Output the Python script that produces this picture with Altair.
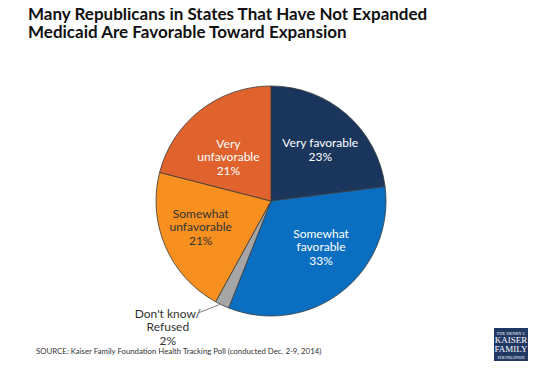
import altair as alt
import pandas as pd

categories = ["Very favorable", "Somewhat favorable", "Don't know/Refused",
              "Somewhat unfavorable", "Very unfavorable"]
values = [23, 33, 2, 21, 21]
labels = ["Very favorable\n23%", "Somewhat\nfavorable\n33%", "Don't know/\nRefused\n2%",
          "Somewhat\nunfavorable\n21%", "Very\nunfavorable\n21%"]
colors = ["#1b365d", "#0b6fc1", "#a6a6a6", "#f7901e", "#e0622c"]
title_lines = ["Many Republicans in States That Have Not Expanded",
               "Medicaid Are Favorable Toward Expansion"]
source_text = "SOURCE: Kaiser Family Foundation Health Tracking Poll (conducted Dec. 2-9, 2014)"
logo_lines = ["THE HENRY J.", "KAISER", "FAMILY", "FOUNDATION"]

df = pd.DataFrame({"category": categories, "value": values, "label": labels,
                   "order": list(range(len(categories)))})

CX, CY = 263, 193
FONT = "Lato"
LH = 13.5
theta_scale = alt.Scale(domain=[0, 100])
base = alt.Chart(df)

pie = base.mark_arc(outerRadius=115, stroke="#3a3a3a", strokeWidth=0.8).encode(
    theta=alt.Theta("value:Q", stack=True, scale=theta_scale),
    color=alt.Color("category:N", scale=alt.Scale(domain=categories, range=colors), legend=None),
    order=alt.Order("order:Q"),
    x=alt.value(CX), y=alt.value(CY),
)


def label_layer(cat, radius, shift, color, nlines):
    return base.transform_window(
        cum="sum(value)", sort=[alt.SortField("order")]
    ).transform_calculate(
        mid=f"datum.cum - datum.value / 2 + ({shift})"
    ).transform_filter(
        alt.datum.category == cat
    ).mark_text(
        radius=radius, lineBreak="\n", fontSize=12, lineHeight=LH,
        font=FONT, color=color, baseline="middle", align="center",
        dy=-(nlines - 1) * LH / 2,
    ).encode(
        theta=alt.Theta("mid:Q", stack=None, scale=theta_scale),
        text="label:N",
        x=alt.value(CX), y=alt.value(CY),
    )


labels_layers = [
    label_layer("Very favorable", 71, 0.7, "white", 2),
    label_layer("Somewhat favorable", 68, -2.67, "white", 3),
    label_layer("Don't know/Refused", 163, 3.9, "#333333", 3),
    label_layer("Somewhat unfavorable", 75, 0.83, "#333333", 3),
    label_layer("Very unfavorable", 61, -1.8, "white", 3),
]

leader = base.mark_rule(color="#808080", strokeWidth=1).encode(
    x=alt.value(190), y=alt.value(305), x2=alt.value(213), y2=alt.value(296)
).transform_filter(alt.datum.category == "Don't know/Refused")

title1 = base.mark_text(font=FONT, fontWeight="bold", fontSize=17, align="left",
                        baseline="alphabetic", color="#111111").encode(
    x=alt.value(20), y=alt.value(12), text=alt.value(title_lines[0])
).transform_filter(alt.datum.order == 0)
title2 = base.mark_text(font=FONT, fontWeight="bold", fontSize=17, align="left",
                        baseline="alphabetic", color="#111111").encode(
    x=alt.value(20), y=alt.value(30), text=alt.value(title_lines[1])
).transform_filter(alt.datum.order == 0)

source = base.mark_text(font=FONT, fontSize=7.8, align="left", baseline="alphabetic",
                        color="#333333").encode(
    x=alt.value(28), y=alt.value(346), text=alt.value(source_text)
).transform_filter(alt.datum.order == 0)

logo_bg = base.mark_rect(color="#1f3864").encode(
    x=alt.value(486), x2=alt.value(520), y=alt.value(320), y2=alt.value(354)
).transform_filter(alt.datum.order == 0)

logo_sizes = [4.5, 9, 9, 4.2]
logo_ys = [326.5, 335, 343.5, 350.5]
logo_layers = [
    base.mark_text(font="Liberation Serif", fontSize=s, color="white", align="center",
                   baseline="alphabetic").encode(
        x=alt.value(503), y=alt.value(yy), text=alt.value(t)
    ).transform_filter(alt.datum.order == 0)
    for t, s, yy in zip(logo_lines, logo_sizes, logo_ys)
]

chart = alt.layer(pie, *labels_layers, leader, title1, title2, source, logo_bg,
                  *logo_layers).properties(
    width=537, height=353, padding=0, autosize=alt.AutoSizeParams(type="none"),
    background="white",
).configure_view(stroke=None)

chart.save("out.html", embed_options={"renderer": "svg", "actions": False})
